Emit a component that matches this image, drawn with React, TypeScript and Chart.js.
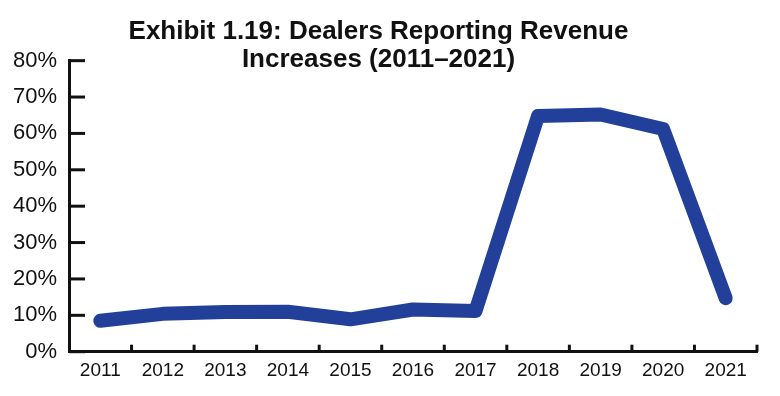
import React, { useEffect, useRef } from "react";
import { Chart, registerables } from "chart.js";

Chart.register(...registerables);

const titleLines = ["Exhibit 1.19: Dealers Reporting Revenue", "Increases (2011–2021)"];
const years = ["2011", "2012", "2013", "2014", "2015", "2016", "2017", "2018", "2019", "2020", "2021"];
const revenueIncreasePct = [8.5, 10.4, 10.9, 11.0, 8.9, 11.6, 11.2, 64.8, 65.2, 61.2, 14.7];
const yTickValues = [0, 10, 20, 30, 40, 50, 60, 70, 80];

const innerTicks = {
  id: "innerTicks",
  afterDraw(chart: any) {
    const { ctx, chartArea, scales } = chart;
    const x = scales.x;
    const y = scales.y;
    ctx.save();
    ctx.strokeStyle = "#111";
    ctx.lineWidth = 3;
    ctx.lineCap = "butt";
    for (const v of yTickValues) {
      const py = y.getPixelForValue(v);
      ctx.beginPath();
      ctx.moveTo(chartArea.left, py);
      ctx.lineTo(chartArea.left + 16, py);
      ctx.stroke();
    }
    const half = (x.getPixelForValue(1) - x.getPixelForValue(0)) / 2;
    for (let i = 0; i < years.length; i++) {
      const px = x.getPixelForValue(i) + half;
      ctx.beginPath();
      ctx.moveTo(px, chartArea.bottom);
      ctx.lineTo(px, chartArea.bottom - 7);
      ctx.stroke();
    }
    ctx.restore();
  },
};

export default function App() {
  const ref = useRef<HTMLCanvasElement>(null);
  useEffect(() => {
    if (!ref.current) return;
    const chart = new Chart(ref.current, {
      type: "line",
      data: {
        labels: years,
        datasets: [
          {
            data: revenueIncreasePct,
            borderColor: "#22409a",
            borderWidth: 14,
            pointRadius: 0,
            tension: 0,
            borderCapStyle: "round",
            borderJoinStyle: "round",
            fill: false,
          },
        ],
      },
      options: {
        responsive: false,
        animation: false,
        layout: { padding: { left: 0, right: 23, top: 0, bottom: 0 } },
        plugins: {
          legend: { display: false },
          tooltip: { enabled: false },
          title: {
            display: true,
            text: titleLines,
            color: "#111",
            font: { family: "'Liberation Sans', Arial, sans-serif", size: 26, weight: "bold", lineHeight: 1.08 },
            padding: { top: 18, bottom: -13.5 },
          },
        },
        scales: {
          x: {
            offset: true,
            grid: { display: true, drawOnChartArea: false, drawTicks: false, offset: true },
            border: { display: true, color: "#111", width: 3 },
            ticks: {
              color: "#111",
              padding: 8,
              maxRotation: 0,
              font: { family: "'Liberation Sans', Arial, sans-serif", size: 19 },
            },
            afterFit(scale: any) {
              scale.height = 44.3;
            },
          },
          y: {
            min: 0,
            max: 80,
            grid: { display: true, drawOnChartArea: false, drawTicks: false },
            border: { display: true, color: "#111", width: 3 },
            ticks: {
              stepSize: 10,
              color: "#111",
              padding: 12,
              font: { family: "'Liberation Sans', Arial, sans-serif", size: 22 },
              callback: (v: any) => v + "%",
            },
            afterFit(scale: any) {
              scale.width = 69;
            },
          },
        },
      },
      plugins: [innerTicks],
    });
    return () => chart.destroy();
  }, []);
  return (
    <div style={{ position: "fixed", left: 0, top: 0, width: 780, height: 396, background: "#fff" }}>
      <canvas ref={ref} width={780} height={396} />
    </div>
  );
}
